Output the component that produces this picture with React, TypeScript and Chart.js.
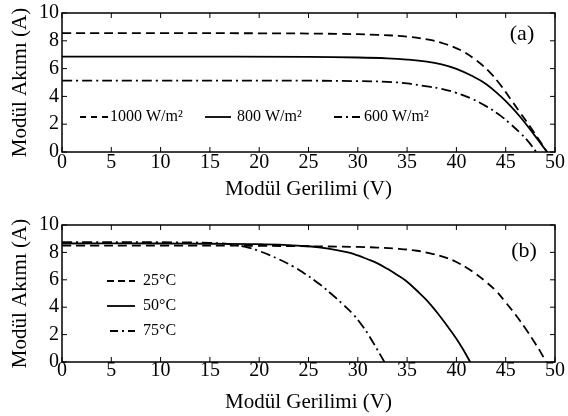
import React, { useEffect, useRef } from "react";
import { Chart, registerables } from "chart.js";

Chart.register(...registerables);

const FONT = "'Liberation Serif', 'Times New Roman', Times, serif";

// ---------- data: (a) irradiance ----------
const vA1000 = [0, 10, 20, 28, 32, 35, 37, 38.5, 40.5, 42, 43.3, 44.5, 45.5, 46.5, 47.5, 48.3, 49.2];
const iA1000 = [8.55, 8.55, 8.54, 8.5, 8.43, 8.3, 8.1, 7.85, 7.3, 6.6, 5.8, 4.8, 3.8, 2.8, 1.8, 0.95, 0];
const vA800 = [0, 10, 25, 30, 33, 35, 37, 38.5, 40, 41.5, 43, 44.5, 45.5, 46.5, 47.5, 48.3, 49.2];
const iA800 = [6.86, 6.86, 6.84, 6.8, 6.74, 6.65, 6.5, 6.3, 5.98, 5.5, 4.9, 4.0, 3.3, 2.5, 1.6, 0.85, 0];
const vA600 = [0, 10, 25, 30, 33, 35, 37, 38.5, 40, 41.5, 43, 44.5, 45.5, 46.5, 47.3, 48.1];
const iA600 = [5.14, 5.14, 5.13, 5.1, 5.05, 4.93, 4.72, 4.55, 4.25, 3.85, 3.3, 2.6, 2.0, 1.35, 0.75, 0];

// ---------- data: (b) temperature ----------
const vB25 = [0, 10, 20, 30, 32, 34, 36, 37.5, 39, 40, 41, 42, 43, 44, 45, 46, 47, 48, 48.6, 49.1];
const iB25 = [8.5, 8.5, 8.48, 8.4, 8.35, 8.27, 8.12, 7.9, 7.6, 7.3, 6.9, 6.42, 5.85, 5.2, 4.35, 3.45, 2.45, 1.35, 0.65, 0];
const vB50 = [0, 10, 15, 20, 23, 25, 27, 29, 30, 31, 32, 33, 34, 35, 36, 37, 38, 39, 40, 40.7, 41.4];
const iB50 = [8.65, 8.65, 8.63, 8.6, 8.53, 8.45, 8.28, 8.0, 7.78, 7.5, 7.2, 6.8, 6.35, 5.86, 5.2, 4.5, 3.65, 2.7, 1.7, 0.9, 0];
const vB75 = [0, 10, 15, 17, 18.5, 20, 22, 23.5, 24.5, 26, 27.5, 28.5, 29.5, 30.4, 31.2, 32.7];
const iB75 = [8.75, 8.74, 8.7, 8.6, 8.42, 8.1, 7.5, 6.95, 6.5, 5.75, 4.85, 4.2, 3.5, 2.7, 1.85, 0];

const xTicks = [0, 5, 10, 15, 20, 25, 30, 35, 40, 45, 50];
const yTicks = [0, 2, 4, 6, 8, 10];
const legendA = ["1000 W/m²", "800 W/m²", "600 W/m²"];
const legendB = ["25°C", "50°C", "75°C"];
const panelA = "(a)";
const panelB = "(b)";
const xTitle = "Modül Gerilimi (V)";
const yTitle = "Modül Akımı (A)";

const DASH = [9, 5];
const DASHDOT = [10, 4, 2, 4];

const pts = (xs: number[], ys: number[]) => xs.map((x, i) => ({ x, y: ys[i] }));

const ds = (xs: number[], ys: number[], dash: number[]) => ({
  data: pts(xs, ys),
  borderColor: "#000",
  borderWidth: 1.8,
  borderDash: dash,
  pointRadius: 0,
  fill: false,
  tension: 0.4,
});

const framePlugin = {
  id: "frame",
  afterDatasetsDraw(chart: any) {
    const { ctx, chartArea, scales } = chart;
    const { left, right, top, bottom } = chartArea;
    const x = scales.x;
    const y = scales.y;
    ctx.save();
    ctx.strokeStyle = "#000";
    ctx.setLineDash([]);
    ctx.lineWidth = 1;
    const L = 5;
    const seg = (a: number, b: number, c: number, d: number) => {
      ctx.beginPath();
      ctx.moveTo(a, b);
      ctx.lineTo(c, d);
      ctx.stroke();
    };
    x.ticks.forEach((t: any) => {
      const p = x.getPixelForValue(t.value);
      seg(p, bottom, p, bottom - L);
      seg(p, top, p, top + L);
    });
    y.ticks.forEach((t: any) => {
      const p = y.getPixelForValue(t.value);
      seg(left, p, left + L, p);
      seg(right, p, right - L, p);
    });
    ctx.lineWidth = 1.5;
    ctx.strokeRect(left, top, right - left, bottom - top);
    ctx.restore();
  },
};

type LegendItem = { label: string; dash: number[]; x0: number; x1: number; tx: number; y: number };

const makeLegendPlugin = (items: LegendItem[], panel: { text: string; x: number; y: number }) => ({
  id: "customLegend",
  afterDraw(chart: any) {
    const ctx = chart.ctx;
    ctx.save();
    ctx.strokeStyle = "#000";
    ctx.fillStyle = "#000";
    ctx.lineWidth = 1.8;
    ctx.font = `16px ${FONT}`;
    ctx.textBaseline = "middle";
    ctx.textAlign = "left";
    items.forEach((it) => {
      ctx.setLineDash(it.dash);
      ctx.beginPath();
      ctx.moveTo(it.x0, it.y);
      ctx.lineTo(it.x1, it.y);
      ctx.stroke();
      ctx.fillText(it.label, it.tx, it.y);
    });
    ctx.setLineDash([]);
    ctx.font = `22px ${FONT}`;
    ctx.textAlign = "center";
    ctx.fillText(panel.text, panel.x, panel.y);
    ctx.restore();
  },
});

const makeConfig = (
  datasets: any[],
  padTop: number,
  xHeight: number,
  xTickPad: number,
  xTitlePad: number,
  plugin: any
) => ({
  type: "line" as const,
  data: { datasets },
  options: {
    animation: false as const,
    responsive: false,
    devicePixelRatio: 1,
    layout: { padding: { left: 0, right: 13, top: padTop, bottom: 0 } },
    plugins: { legend: { display: false }, tooltip: { enabled: false } },
    scales: {
      x: {
        type: "linear" as const,
        min: 0,
        max: 50,
        afterBuildTicks: (s: any) => {
          s.ticks = xTicks.map((v) => ({ value: v }));
        },
        afterFit: (s: any) => {
          s.height = xHeight;
        },
        grid: { display: false, drawTicks: false, tickLength: 0 },
        border: { display: false },
        ticks: {
          color: "#000",
          font: { family: FONT, size: 20, lineHeight: 1 },
          padding: xTickPad,
          maxRotation: 0,
          autoSkip: false,
        },
        title: {
          display: true,
          text: xTitle,
          color: "#000",
          font: { family: FONT, size: 21 },
          padding: { top: 0, bottom: xTitlePad },
        },
      },
      y: {
        type: "linear" as const,
        min: 0,
        max: 10,
        afterBuildTicks: (s: any) => {
          s.ticks = yTicks.map((v) => ({ value: v }));
        },
        afterFit: (s: any) => {
          s.width = 62;
        },
        grid: { display: false, drawTicks: false, tickLength: 0 },
        border: { display: false },
        ticks: {
          color: "#000",
          font: { family: FONT, size: 20, lineHeight: 1 },
          padding: 3,
        },
        title: {
          display: true,
          text: yTitle,
          color: "#000",
          font: { family: FONT, size: 21 },
          padding: { top: 8, bottom: 0 },
        },
      },
    },
  },
  plugins: [framePlugin, plugin],
});

function Panel({ config, top }: { config: any; top: number }) {
  const ref = useRef<HTMLCanvasElement | null>(null);
  useEffect(() => {
    if (!ref.current) return;
    const chart = new Chart(ref.current, config);
    return () => chart.destroy();
  }, [config]);
  return (
    <canvas
      ref={ref}
      width={568}
      height={208}
      style={{ position: "absolute", left: 0, top, width: 568, height: 208, display: "block" }}
    />
  );
}

const configA = makeConfig(
  [ds(vA1000, iA1000, DASH), ds(vA800, iA800, []), ds(vA600, iA600, DASHDOT)],
  12,
  56,
  1,
  6,
  makeLegendPlugin(
    [
      { label: legendA[0], dash: [6, 5], x0: 80, x1: 108, tx: 110, y: 117 },
      { label: legendA[1], dash: [], x0: 205, x1: 231, tx: 237, y: 117 },
      { label: legendA[2], dash: [8, 4, 2, 4], x0: 334, x1: 360, tx: 364, y: 117 },
    ],
    { text: panelA, x: 522, y: 34 }
  )
);

const configB = makeConfig(
  [ds(vB25, iB25, DASH), ds(vB50, iB50, []), ds(vB75, iB75, DASHDOT)],
  17,
  54,
  -1,
  1,
  makeLegendPlugin(
    [
      { label: legendB[0], dash: [7, 4], x0: 107, x1: 135, tx: 143, y: 73 },
      { label: legendB[1], dash: [], x0: 107, x1: 135, tx: 143, y: 98 },
      { label: legendB[2], dash: [8, 4, 2, 4], x0: 110, x1: 135, tx: 143, y: 123 },
    ],
    { text: panelB, x: 524, y: 43 }
  )
);

export default function App() {
  return (
    <div style={{ position: "fixed", left: 0, top: 0, width: 568, height: 416, background: "#fff" }}>
      <Panel config={configA} top={0} />
      <Panel config={configB} top={208} />
    </div>
  );
}
